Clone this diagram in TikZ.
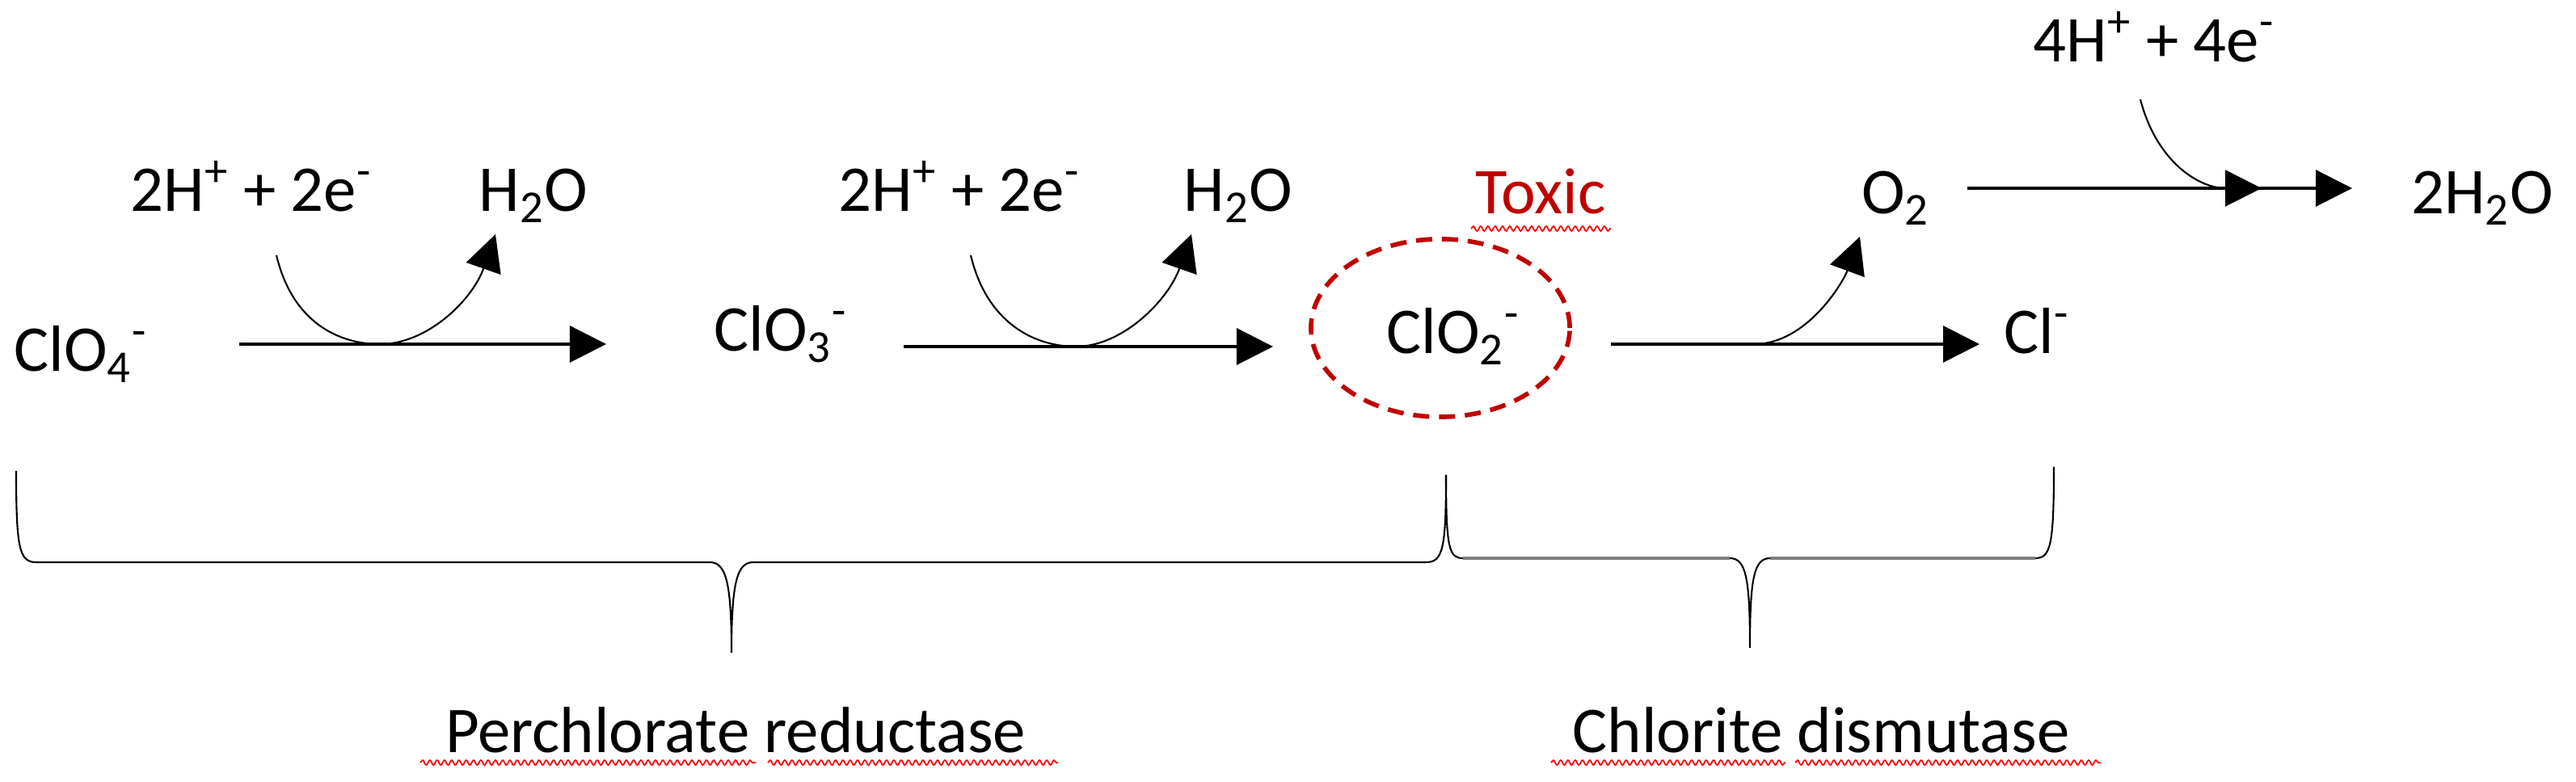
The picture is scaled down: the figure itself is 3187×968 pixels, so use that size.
\documentclass[tikz,border=0pt]{standalone}
\usepackage{fontspec}
\setmainfont{Carlito}
\usetikzlibrary{arrows.meta,decorations.pathmorphing,shapes.geometric}
\definecolor{toxred}{HTML}{C00000}
\definecolor{bracegrey}{HTML}{7F7F7F}
\begin{document}
\begin{tikzpicture}[x=0.01cm,y=-0.01cm,
  chem/.style={inner sep=0pt,anchor=base,font=\fontsize{23}{27}\selectfont},
  rxn/.style={line width=0.9pt,-{Triangle[length=0.45cm,width=0.45cm]}},
  side/.style={line width=0.6pt,-{Triangle[length=0.45cm,width=0.45cm]}},
  brace/.style={line width=0.6pt},
  spell/.style={red,line width=0.5pt,decorate,decoration={snake,amplitude=0.03cm,segment length=0.09cm}}]
\useasboundingbox (0,0) rectangle (3187,968);
% species
\node[chem] (clo4) at (100,460) {ClO\textsubscript{4}\textsuperscript{-}};
\node[chem] (clo3) at (966,435) {ClO\textsubscript{3}\textsuperscript{-}};
\node[chem] (clo2) at (1798,438) {ClO\textsubscript{2}\textsuperscript{-}};
\node[chem] (cl) at (2520,438) {Cl\textsuperscript{-}};
\node[chem] (o2) at (2345,265) {O\textsubscript{2}};
\node[chem] (h2o2) at (3071,265) {2H\textsubscript{2}O};
\node[chem] (hp1) at (311,262) {2H\textsuperscript{+} + 2e\textsuperscript{-}};
\node[chem] (w1) at (660,262) {H\textsubscript{2}O};
\node[chem] (hp2) at (1187,262) {2H\textsuperscript{+} + 2e\textsuperscript{-}};
\node[chem] (w2) at (1532,262) {H\textsubscript{2}O};
\node[chem] (hp3) at (2665,77) {4H\textsuperscript{+} + 4e\textsuperscript{-}};
\node[chem,text=toxred] (tox) at (1906,265) {Toxic};
\node[chem] (pr) at (910,932) {Perchlorate reductase};
\node[chem] (cd) at (2253,932) {Chlorite dismutase};
% toxic ring
\node[draw=toxred,line width=1.6pt,ellipse,minimum width=3.2cm,minimum height=2.2cm,dash pattern=on 0.2cm off 0.12cm] (ring) at (1782,406) {};
% coordinates
\coordinate (a1s) at (296,426); \coordinate (a1e) at (750,426);
\coordinate (a2s) at (1118,429); \coordinate (a2e) at (1575,429);
\coordinate (a3s) at (1993,426); \coordinate (a3e) at (2449,426);
\coordinate (a4s) at (2434,233); \coordinate (a4e) at (2910,233);
% main arrows
\draw[rxn] (a1s) -- (a1e);
\draw[rxn] (a2s) -- (a2e);
\draw[rxn] (a3s) -- (a3e);
\draw[rxn] (a4s) -- (a4e);
% side curves
\draw[side] (342,316) .. controls (362,400) and (420,426) .. (470,426) .. controls (530,426) and (585,370) .. (613,290);
\draw[side] (1201,316) .. controls (1221,400) and (1280,429) .. (1331,429) .. controls (1390,429) and (1446,370) .. (1474,290);
\draw[side] (2170,426) .. controls (2235,426) and (2280,350) .. (2301,293);
\draw[side] (2648,123) .. controls (2668,200) and (2720,233) .. (2798,233);
% braces
\draw[brace] (20,583) .. controls (20,680) and (24,696) .. (45,696) -- (878,696) .. controls (898,696) and (905,720) .. (905,808)
  .. controls (905,720) and (912,696) .. (932,696) -- (1764,696) .. controls (1785,696) and (1789,680) .. (1789,588);
\draw[brace] (1789,588) .. controls (1789,680) and (1793,691) .. (1810,691);
\draw[bracegrey,line width=1.1pt] (1810,691) -- (2140,691);
\draw[brace] (2140,691) .. controls (2160,691) and (2165,715) .. (2165,802) .. controls (2165,715) and (2170,691) .. (2190,691);
\draw[bracegrey,line width=1.1pt] (2190,691) -- (2518,691);
\draw[brace] (2518,691) .. controls (2537,691) and (2541,675) .. (2541,578);
% spell-check underlines
\draw[spell] (1820,283) -- (1993,283);
\draw[spell] (520,944) -- (935,944);
\draw[spell] (950,944) -- (1309,944);
\draw[spell] (1919,944) -- (2209,944);
\draw[spell] (2221,944) -- (2599,944);
\end{tikzpicture}
\end{document}
